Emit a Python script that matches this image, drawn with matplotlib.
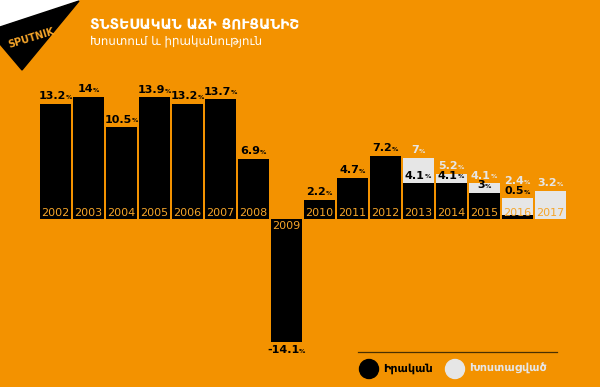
import matplotlib.pyplot as plt
from matplotlib.patches import Polygon, Ellipse

years = ['2002', '2003', '2004', '2005', '2006', '2007', '2008', '2009',
         '2010', '2011', '2012', '2013', '2014', '2015', '2016', '2017']
actual = [13.2, 14, 10.5, 13.9, 13.2, 13.7, 6.9, -14.1,
          2.2, 4.7, 7.2, 4.1, 4.1, 3, 0.5, None]
promised = [None, None, None, None, None, None, None, None,
            None, None, None, 7, 5.2, 4.1, 2.4, 3.2]

title = 'ՏՆՏԵՍԱԿԱՆ ԱՃԻ ՑՈՒՑԱՆԻՇ'
subtitle = 'Խոստում և իրականություն'
legend_actual = 'Իրական'
legend_promised = 'Խոստացված'

ORANGE = '#F39200'
GRAY = '#E6E6E6'
YEARC = '#F5A52A'
NUMFONT = ['Liberation Sans Narrow', 'DejaVu Sans']

fig = plt.figure(figsize=(6, 3.87), dpi=100)
fig.patch.set_facecolor(ORANGE)
ax = fig.add_axes([0, 0, 1, 1])
ax.set_facecolor(ORANGE)
ax.set_xlim(-1.683, 16.514)
ax.set_ylim(-19.2, 25.03)
ax.axis('off')

def label(x, y, val, color, va='bottom'):
    txt = ('%g' % val)
    t = ax.text(x - 0.1, y, txt, ha='center', va=va, fontsize=8,
                fontweight='bold', color=color, family=NUMFONT)
    ax.annotate('%', xy=(1, 0.12), xycoords=t, ha='left', va='bottom',
                fontsize=4.5, fontweight='bold', color=color, family=NUMFONT)

w = 0.94
for i, yr in enumerate(years):
    p = promised[i]
    a = actual[i]
    stacked = a is not None and p is not None and 0 <= a < 1.5
    if p is not None:
        ax.bar(i, p, width=w, color=GRAY, linewidth=0)
    if a is not None:
        ax.bar(i, a, width=w, color='black', linewidth=0)
        if a < 0:
            label(i, a - 0.3, a, 'black', va='top')
        elif stacked:
            # bar too short: put the label above the promise bar
            label(i, p + 0.2, a, 'black')
        else:
            label(i, a + 0.3, a, 'black')
    if p is not None:
        label(i, p + 1.4 if stacked else p + 0.3, p, GRAY)
    if a is not None and a < 0:
        ax.text(i, -0.25, yr, ha='center', va='top', fontsize=8,
                color=YEARC, family=NUMFONT)
    else:
        ax.text(i, 0.15, yr, ha='center', va='bottom', fontsize=8,
                color=YEARC, family=NUMFONT)

# logo
def px(pts):
    return [(x / 600, 1 - y / 387) for x, y in pts]

fig.patches.append(Polygon(px([(0, 0), (79, 0), (0, 27)]), closed=True,
                           transform=fig.transFigure, color='white'))
fig.patches.append(Polygon(px([(0, 27), (79, 1), (22, 70), (0, 44)]), closed=True,
                           transform=fig.transFigure, color='black'))
fig.text(31 / 600, 1 - 38 / 387, 'SPUTNIK', rotation=17, fontsize=7,
         fontweight='bold', color='#F5A52A', ha='center', va='center')

fig.text(90 / 600, 1 - 26 / 387, title, fontsize=10, fontweight='bold',
         color='white', ha='left', va='center', family='DejaVu Sans')
fig.text(90 / 600, 1 - 42 / 387, subtitle, fontsize=8.5,
         color='white', ha='left', va='center', family='DejaVu Sans')

# legend
ax.plot([358 / 600, 557 / 600], [1 - 352 / 387] * 2, transform=fig.transFigure,
        color='#4a3000', lw=0.9)
fig.patches.append(Ellipse((369 / 600, 1 - 369 / 387), 19 / 600, 19 / 387,
                           transform=fig.transFigure, color='black'))
fig.patches.append(Ellipse((455 / 600, 1 - 369 / 387), 19 / 600, 19 / 387,
                           transform=fig.transFigure, color=GRAY))
fig.text(383 / 600, 1 - 369 / 387, legend_actual, fontsize=8, fontweight='bold',
         color='black', ha='left', va='center', family='DejaVu Sans')
fig.text(469 / 600, 1 - 369 / 387, legend_promised, fontsize=8, fontweight='bold',
         color=GRAY, ha='left', va='center', family='DejaVu Sans')

fig.savefig('out.png', dpi=100, facecolor=ORANGE)
